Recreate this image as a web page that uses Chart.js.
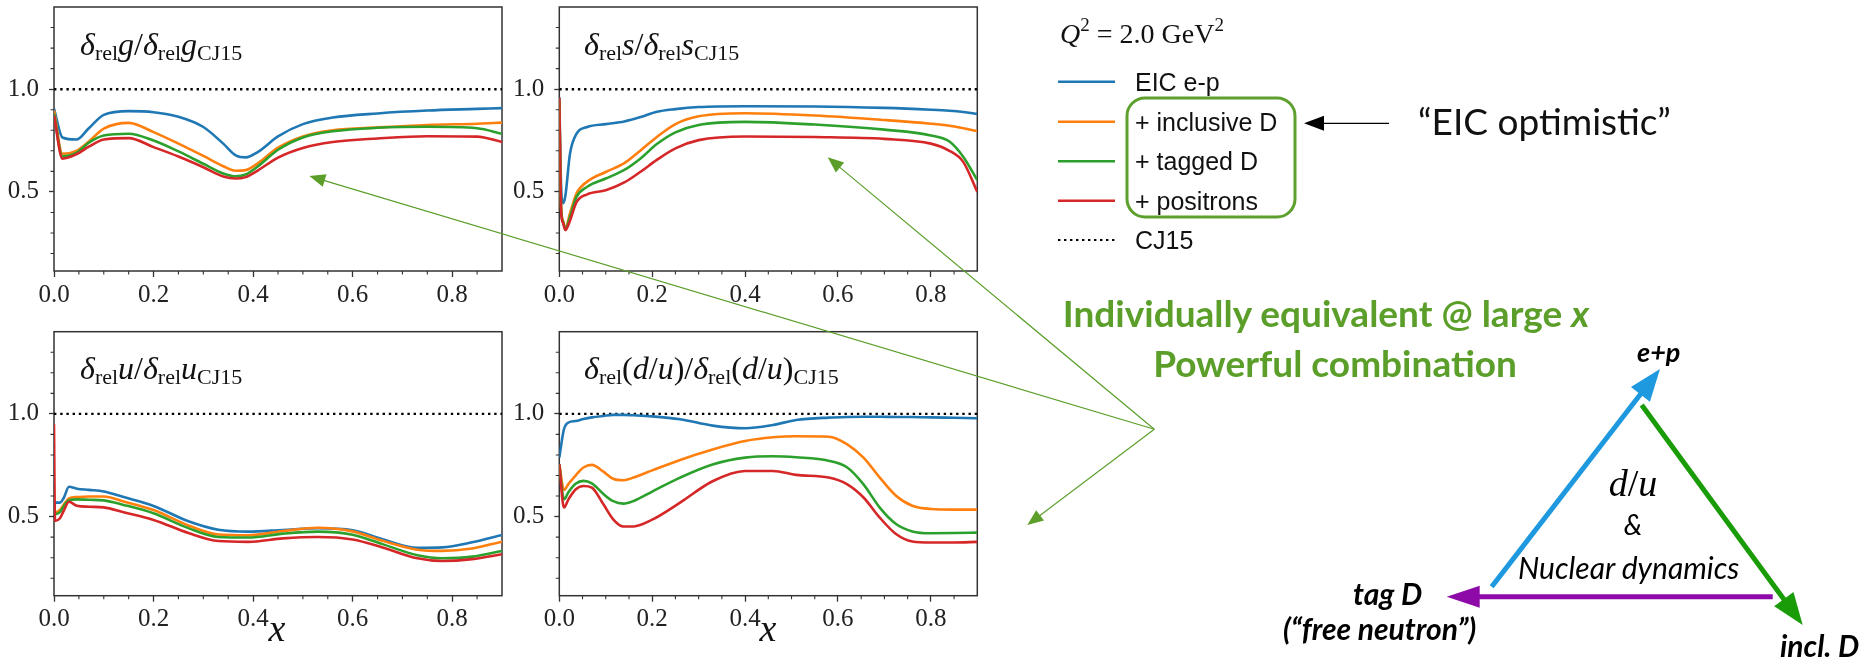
<!DOCTYPE html>
<html><head><meta charset="utf-8">
<script src="https://cdn.jsdelivr.net/npm/chart.js@4.4.1/dist/chart.umd.min.js"></script>
<style>
html,body{margin:0;padding:0;background:#fff;}
#wrap{position:relative;width:1866px;height:661px;overflow:hidden;background:#fff;}
canvas{position:absolute;}
#ann{position:absolute;left:0;top:0;pointer-events:none;}
</style></head><body>
<div id="wrap">
<canvas id="c1" width="515" height="320" style="left:0px;top:0px"></canvas>
<canvas id="c2" width="490" height="320" style="left:505px;top:0px"></canvas>
<canvas id="c3" width="515" height="341" style="left:0px;top:320px"></canvas>
<canvas id="c4" width="490" height="341" style="left:505px;top:320px"></canvas>
<svg id="ann" width="1866" height="661" xmlns="http://www.w3.org/2000/svg"></svg>
</div>
<script>
// ---------------- DATA ----------------
const seriesLabels = ['EIC e-p', '+ inclusive D', '+ tagged D', '+ positrons'];
const refLabel = 'CJ15';
const xTicks = [0.0, 0.2, 0.4, 0.6, 0.8];
const xMinorTicks = [0.05,0.1,0.15,0.25,0.3,0.35,0.45,0.5,0.55,0.65,0.7,0.75,0.85];
const yTicks = [0.5, 1.0];
const yMinorTicks = [0.2,0.3,0.4,0.6,0.7,0.8,0.9,1.1,1.2,1.3];
const refX = [0.0, 0.9];
const refY = [1.0, 1.0];

// gluon
const gX    = [0, 0.017, 0.045, 0.07, 0.1, 0.15, 0.2, 0.25, 0.3, 0.34, 0.365, 0.385, 0.41, 0.45, 0.5, 0.56, 0.65, 0.75, 0.85, 0.9];
const gEp   = [0.905, 0.765, 0.755, 0.810, 0.875, 0.893, 0.888, 0.866, 0.816, 0.735, 0.678, 0.668, 0.695, 0.770, 0.830, 0.862, 0.882, 0.896, 0.904, 0.908];
const gIncl = [0.896, 0.686, 0.700, 0.745, 0.808, 0.836, 0.791, 0.735, 0.675, 0.625, 0.603, 0.606, 0.640, 0.715, 0.770, 0.800, 0.814, 0.826, 0.832, 0.837];
const gTag  = [0.880, 0.672, 0.690, 0.740, 0.775, 0.783, 0.750, 0.697, 0.637, 0.590, 0.576, 0.585, 0.625, 0.705, 0.765, 0.795, 0.812, 0.817, 0.810, 0.783];
const gPos  = [0.872, 0.662, 0.683, 0.720, 0.755, 0.762, 0.718, 0.672, 0.620, 0.575, 0.565, 0.572, 0.605, 0.667, 0.714, 0.743, 0.760, 0.771, 0.769, 0.743];

// strange
const sX    = [0, 0.004, 0.008, 0.013, 0.023, 0.037, 0.06, 0.1, 0.14, 0.175, 0.21, 0.25, 0.3, 0.4, 0.55, 0.7, 0.8, 0.84, 0.87, 0.9];
const sEp   = [0.960, 0.520, 0.445, 0.480, 0.686, 0.783, 0.816, 0.830, 0.843, 0.864, 0.890, 0.903, 0.913, 0.917, 0.916, 0.909, 0.900, 0.895, 0.889, 0.880];
const sIncl = [0.950, 0.420, 0.360, 0.322, 0.395, 0.492, 0.550, 0.597, 0.640, 0.702, 0.767, 0.830, 0.868, 0.883, 0.872, 0.850, 0.832, 0.822, 0.810, 0.795];
const sTag  = [0.950, 0.410, 0.355, 0.317, 0.379, 0.476, 0.525, 0.565, 0.607, 0.663, 0.733, 0.790, 0.826, 0.841, 0.828, 0.803, 0.775, 0.745, 0.670, 0.557];
const sPos  = [0.960, 0.400, 0.350, 0.314, 0.360, 0.450, 0.488, 0.508, 0.546, 0.598, 0.656, 0.712, 0.752, 0.770, 0.767, 0.758, 0.735, 0.700, 0.645, 0.500];

// up
const uX    = [0, 0.002, 0.012, 0.02, 0.03, 0.046, 0.07, 0.1, 0.14, 0.2, 0.27, 0.33, 0.39, 0.46, 0.53, 0.6, 0.66, 0.73, 0.78, 0.84, 0.9];
const uEp   = [0.560, 0.568, 0.568, 0.593, 0.645, 0.636, 0.630, 0.622, 0.595, 0.552, 0.477, 0.436, 0.427, 0.435, 0.443, 0.434, 0.390, 0.348, 0.350, 0.375, 0.411];
const uIncl = [0.520, 0.520, 0.532, 0.560, 0.589, 0.595, 0.598, 0.598, 0.573, 0.532, 0.457, 0.413, 0.409, 0.430, 0.446, 0.428, 0.382, 0.339, 0.333, 0.345, 0.378];
const uTag  = [0.510, 0.511, 0.522, 0.552, 0.580, 0.584, 0.582, 0.579, 0.557, 0.516, 0.444, 0.401, 0.398, 0.417, 0.427, 0.412, 0.366, 0.312, 0.297, 0.305, 0.333];
const uPos  = [0.950, 0.479, 0.492, 0.530, 0.572, 0.553, 0.548, 0.545, 0.521, 0.484, 0.420, 0.381, 0.377, 0.394, 0.401, 0.389, 0.350, 0.297, 0.284, 0.293, 0.317];

// d/u
const duX    = [0, 0.01, 0.02, 0.035, 0.052, 0.07, 0.095, 0.116, 0.138, 0.16, 0.2, 0.26, 0.33, 0.4, 0.46, 0.51, 0.58, 0.62, 0.655, 0.69, 0.725, 0.76, 0.8, 0.85, 0.9];
const duEp   = [0.787, 0.925, 0.958, 0.965, 0.975, 0.983, 0.990, 0.995, 0.995, 0.993, 0.988, 0.974, 0.943, 0.930, 0.946, 0.970, 0.982, 0.985, 0.986, 0.986, 0.985, 0.985, 0.983, 0.981, 0.979];
const duIncl = [0.755, 0.630, 0.660, 0.700, 0.739, 0.752, 0.719, 0.684, 0.677, 0.690, 0.725, 0.776, 0.827, 0.868, 0.886, 0.891, 0.889, 0.852, 0.787, 0.690, 0.602, 0.553, 0.537, 0.534, 0.534];
const duTag  = [0.755, 0.584, 0.620, 0.660, 0.674, 0.662, 0.610, 0.575, 0.563, 0.576, 0.622, 0.690, 0.754, 0.787, 0.794, 0.789, 0.772, 0.739, 0.657, 0.544, 0.464, 0.428, 0.419, 0.420, 0.422];
const duPos  = [0.755, 0.544, 0.585, 0.632, 0.649, 0.641, 0.560, 0.487, 0.452, 0.452, 0.485, 0.568, 0.672, 0.722, 0.722, 0.703, 0.690, 0.657, 0.593, 0.495, 0.415, 0.379, 0.374, 0.374, 0.377];

// ---------------- STYLE ----------------
const seriesColors = ['#1f77b4', '#ff7f0e', '#2ca02c', '#d62728'];
const AX = '#333333';

function pts(xs, ys){ return xs.map((x,i)=>({x:x, y:ys[i]})); }

const framePlugin = {
  id: 'frameMinor',
  beforeDatasetsDraw(chart){
    const ctx = chart.ctx, a = chart.chartArea, x = chart.scales.x, y = chart.scales.y;
    ctx.save();
    ctx.strokeStyle = AX;
    ctx.lineWidth = 1.5;
    ctx.strokeRect(a.left, a.top, a.right - a.left, a.bottom - a.top);
    ctx.lineWidth = 1.1;
    ctx.beginPath();
    xMinorTicks.forEach(v => { const p = x.getPixelForValue(v); ctx.moveTo(p, a.bottom); ctx.lineTo(p, a.bottom + 3.5); });
    yMinorTicks.forEach(v => { const p = y.getPixelForValue(v); ctx.moveTo(a.left, p); ctx.lineTo(a.left - 3.5, p); });
    ctx.stroke();
    ctx.restore();
  }
};

function makePanel(id, xs, series, yAxisW, xAxisH, pad){
  const ds = series.map((ys, i) => ({
    label: seriesLabels[i],
    data: pts(xs, ys),
    borderColor: seriesColors[i],
    borderWidth: 2.6,
    pointRadius: 0,
    fill: false,
    cubicInterpolationMode: 'monotone',
    order: 4 - i
  }));
  ds.push({
    label: refLabel,
    data: pts(refX, refY),
    borderColor: '#000',
    borderWidth: 2.4,
    borderDash: [2.4, 3.8],
    pointRadius: 0,
    fill: false,
    order: 5
  });
  return new Chart(document.getElementById(id), {
    type: 'line',
    data: { datasets: ds },
    options: {
      responsive: false,
      animation: false,
      events: [],
      layout: { padding: pad },
      plugins: { legend: { display: false }, tooltip: { enabled: false } },
      scales: {
        x: {
          type: 'linear', min: 0, max: 0.9,
          afterBuildTicks: s => { s.ticks = xTicks.map(v => ({ value: v })); },
          afterFit: s => { s.height = xAxisH; s.paddingLeft = 0; s.paddingRight = 0; },
          ticks: { callback: v => Number(v).toFixed(1), font: { family: 'Liberation Serif', size: 25 }, color: '#222', padding: 3, maxRotation: 0, autoSkip: false },
          grid: { drawOnChartArea: false, tickLength: 6, tickWidth: 1.3, tickColor: AX },
          border: { display: false }
        },
        y: {
          type: 'linear', min: 0.115, max: 1.4,
          afterBuildTicks: s => { s.ticks = yTicks.map(v => ({ value: v })); },
          afterFit: s => { s.width = yAxisW; s.paddingTop = 0; s.paddingBottom = 0; },
          ticks: { callback: v => Number(v).toFixed(1), font: { family: 'Liberation Serif', size: 25 }, color: '#222', padding: 10 },
          grid: { drawOnChartArea: false, tickLength: 5, tickWidth: 1.3, tickColor: AX },
          border: { display: false }
        }
      }
    },
    plugins: [framePlugin]
  });
}

makePanel('c1', gX,  [gEp, gIncl, gTag, gPos],     54,   49,   { left: 0, top: 7,    right: 13,   bottom: 0 });
makePanel('c2', sX,  [sEp, sIncl, sTag, sPos],     54.3, 49,   { left: 0, top: 7,    right: 17.7, bottom: 0 });
makePanel('c3', uX,  [uEp, uIncl, uTag, uPos],     54,   65.3, { left: 0, top: 11.7, right: 13,   bottom: 0 });
makePanel('c4', duX, [duEp, duIncl, duTag, duPos], 54.3, 65.3, { left: 0, top: 11.7, right: 17.7, bottom: 0 });

// ---------------- ANNOTATION LAYER ----------------
const svg = document.getElementById('ann');
let h = '';
const SUB = 'font-size="22" dy="5"';
const UP = 'dy="-5"';
function subTitle(x, y, parts){ return `<text x="${x}" y="${y}" font-family="Liberation Serif" font-size="32" fill="#111">${parts}</text>`; }
h += subTitle(80, 55, `<tspan font-style="italic">δ</tspan><tspan ${SUB}>rel</tspan><tspan font-style="italic" ${UP}>g</tspan>/<tspan font-style="italic">δ</tspan><tspan ${SUB}>rel</tspan><tspan font-style="italic" ${UP}>g</tspan><tspan ${SUB}>CJ15</tspan>`);
h += subTitle(584, 55, `<tspan font-style="italic">δ</tspan><tspan ${SUB}>rel</tspan><tspan font-style="italic" ${UP}>s</tspan>/<tspan font-style="italic">δ</tspan><tspan ${SUB}>rel</tspan><tspan font-style="italic" ${UP}>s</tspan><tspan ${SUB}>CJ15</tspan>`);
h += subTitle(80, 379, `<tspan font-style="italic">δ</tspan><tspan ${SUB}>rel</tspan><tspan font-style="italic" ${UP}>u</tspan>/<tspan font-style="italic">δ</tspan><tspan ${SUB}>rel</tspan><tspan font-style="italic" ${UP}>u</tspan><tspan ${SUB}>CJ15</tspan>`);
h += subTitle(584, 379, `<tspan font-style="italic">δ</tspan><tspan ${SUB}>rel</tspan><tspan ${UP}>(</tspan><tspan font-style="italic">d</tspan>/<tspan font-style="italic">u</tspan>)/<tspan font-style="italic">δ</tspan><tspan ${SUB}>rel</tspan><tspan ${UP}>(</tspan><tspan font-style="italic">d</tspan>/<tspan font-style="italic">u</tspan>)<tspan ${SUB}>CJ15</tspan>`);
// x axis labels
h += `<text x="277" y="641" text-anchor="middle" font-family="Liberation Serif" font-style="italic" font-size="38" fill="#111">x</text>`;
h += `<text x="768" y="641" text-anchor="middle" font-family="Liberation Serif" font-style="italic" font-size="38" fill="#111">x</text>`;

// legend
h += `<text x="1060" y="43" font-family="Liberation Serif" font-size="28" fill="#111"><tspan font-style="italic">Q</tspan><tspan font-size="19" dy="-12">2</tspan><tspan dy="12"> = 2.0 GeV</tspan><tspan font-size="19" dy="-12">2</tspan></text>`;
const legRows = [81.7, 121.7, 161.3, 200.7, 240];
const legLabels = seriesLabels.concat([refLabel]);
legLabels.forEach((lab, i) => {
  const y = legRows[i];
  if (i < 4) h += `<line x1="1058" y1="${y}" x2="1115" y2="${y}" stroke="${seriesColors[i]}" stroke-width="2.6"/>`;
  else h += `<line x1="1058" y1="${y}" x2="1115" y2="${y}" stroke="#000" stroke-width="2.2" stroke-dasharray="2.4 3.6"/>`;
  h += `<text x="1135" y="${y + 9}" font-family="Liberation Sans" font-size="25" fill="#111">${lab}</text>`;
});
h += `<rect x="1127" y="98" width="168" height="119" rx="18" ry="18" fill="none" stroke="#5ea02e" stroke-width="3"/>`;

function arrow(x1, y1, x2, y2, color, w, hl, hw){
  const dx = x2 - x1, dy = y2 - y1, L = Math.hypot(dx, dy), ux = dx / L, uy = dy / L;
  const bx = x2 - ux * hl, by = y2 - uy * hl;
  let s = `<line x1="${x1}" y1="${y1}" x2="${bx + ux}" y2="${by + uy}" stroke="${color}" stroke-width="${w}"/>`;
  s += `<polygon points="${x2},${y2} ${bx - uy * hw},${by + ux * hw} ${bx + uy * hw},${by - ux * hw}" fill="${color}"/>`;
  return s;
}
// EIC optimistic
h += arrow(1389, 123.3, 1304, 123.3, '#000', 1.2, 20, 7.5);
h += `<text x="1418" y="135" font-family="Lato" font-size="37" fill="#111">“EIC optimistic”</text>`;

// green statement
const GREEN = '#5b9f2a';
h += `<text x="1326" y="327" text-anchor="middle" font-family="Lato" font-weight="bold" font-size="37" fill="${GREEN}">Individually equivalent @ large <tspan font-style="italic">x</tspan></text>`;
h += `<text x="1335" y="377" text-anchor="middle" font-family="Lato" font-weight="bold" font-size="37" fill="${GREEN}">Powerful combination</text>`;
// green pointer arrows
const cx = 1154.3, cy = 429.3;
h += arrow(cx, cy, 309.3, 176, GREEN, 1.2, 16, 6.5);
h += arrow(cx, cy, 827.7, 157.3, GREEN, 1.2, 16, 6.5);
h += arrow(cx, cy, 1027.3, 525, GREEN, 1.2, 16, 6.5);

// triangle
h += arrow(1491.7, 586.7, 1660, 369, '#1e98de', 5, 32, 12);
h += arrow(1641.7, 405, 1802.7, 625, '#1a9c08', 5, 32, 12);
h += arrow(1772.7, 596.7, 1446.7, 596.7, '#8e0aa8', 5, 33, 11);
h += `<text x="1637" y="362" font-family="Lato" font-weight="bold" font-style="italic" font-size="27" fill="#000">e+p</text>`;
h += `<text x="1353" y="605" font-family="Lato" font-weight="bold" font-style="italic" font-size="30" fill="#000">tag D</text>`;
h += `<text x="1283" y="640" font-family="Lato" font-weight="bold" font-style="italic" font-size="30" fill="#000">(“free neutron”)</text>`;
h += `<text x="1780" y="657" font-family="Lato" font-weight="bold" font-style="italic" font-size="30" fill="#000">incl. D</text>`;
h += `<text x="1633" y="496" text-anchor="middle" font-family="Liberation Serif" font-size="38" fill="#000"><tspan font-style="italic">d</tspan>/<tspan font-style="italic">u</tspan></text>`;
h += `<text x="1633" y="535" text-anchor="middle" font-family="Lato" font-style="italic" font-size="28" fill="#000">&amp;</text>`;
h += `<text x="1518" y="579" font-family="Lato" font-style="italic" font-size="30" fill="#000">Nuclear dynamics</text>`;
svg.innerHTML = h;
</script>
</body></html>
